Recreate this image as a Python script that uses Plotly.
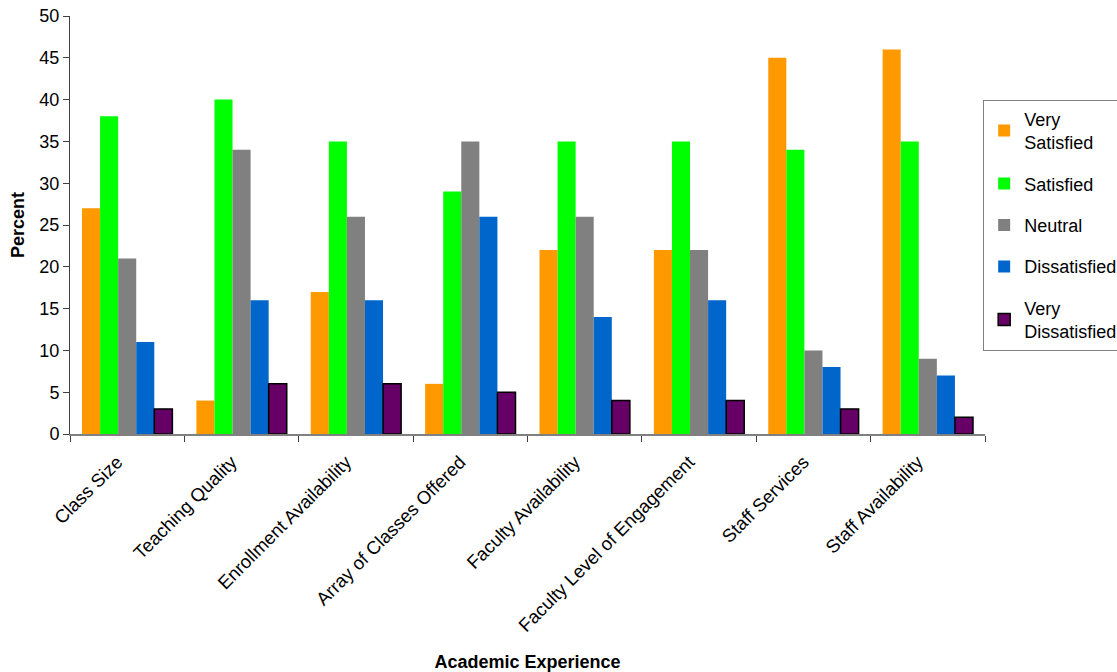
import plotly.graph_objects as go

categories = ["Class Size", "Teaching Quality", "Enrollment Availability",
              "Array of Classes Offered", "Faculty Availability",
              "Faculty Level of Engagement", "Staff Services", "Staff Availability"]

very_satisfied = [27, 4, 17, 6, 22, 22, 45, 46]
satisfied = [38, 40, 35, 29, 35, 35, 34, 35]
neutral = [21, 34, 26, 35, 26, 22, 10, 9]
dissatisfied = [11, 16, 16, 26, 14, 16, 8, 7]
very_dissatisfied = [3, 6, 6, 5, 4, 4, 3, 2]

series = [
    ("Very<br>Satisfied", very_satisfied, "#FF9900", None),
    ("Satisfied", satisfied, "#00FF00", None),
    ("Neutral", neutral, "#808080", None),
    ("Dissatisfied", dissatisfied, "#0066CC", None),
    ("Very<br>Dissatisfied", very_dissatisfied, "#660066", "#000000"),
]

fig = go.Figure()
for i, (name, vals, color, outline) in enumerate(series):
    fig.add_trace(go.Bar(
        x=categories, y=vals, name=name,
        legendgroup=f"g{i}",
        marker=dict(color=color,
                    line=dict(color=outline or color, width=1.5 if outline else 0)),
    ))

font = "Liberation Sans, Arial, sans-serif"
fig.update_layout(
    barmode="group",
    bargap=0.21,
    bargroupgap=0,
    width=1117, height=672,
    margin=dict(l=70, r=132, t=16, b=238, autoexpand=False),
    plot_bgcolor="white", paper_bgcolor="white",
    font=dict(family=font, size=18, color="#000000"),
    legend=dict(
        x=0.998, y=0.80, xanchor="left", yanchor="top",
        bordercolor="#808080", borderwidth=1,
        font=dict(size=18, family=font),
        tracegroupgap=15,
        traceorder="grouped",
        itemwidth=30,
    ),
    xaxis=dict(
        title=dict(text="<b>Academic Experience</b>", font=dict(size=18), standoff=24),
        tickangle=-45, tickfont=dict(size=18.5),
        ticklabelshift=-10, ticklabelstandoff=8,
        showline=True, linecolor="#808080", linewidth=2,
        ticks="outside", tickson="boundaries", ticklen=6, tickcolor="#404040",
    ),
    yaxis=dict(
        title=dict(text="<b>Percent</b>", font=dict(size=18), standoff=10),
        range=[0, 50], dtick=5, tickfont=dict(size=18),
        showline=True, linecolor="#404040", linewidth=1,
        ticks="outside", ticklen=6, tickcolor="#404040",
        showgrid=False, zeroline=False,
    ),
)

fig.write_html("out.html")
